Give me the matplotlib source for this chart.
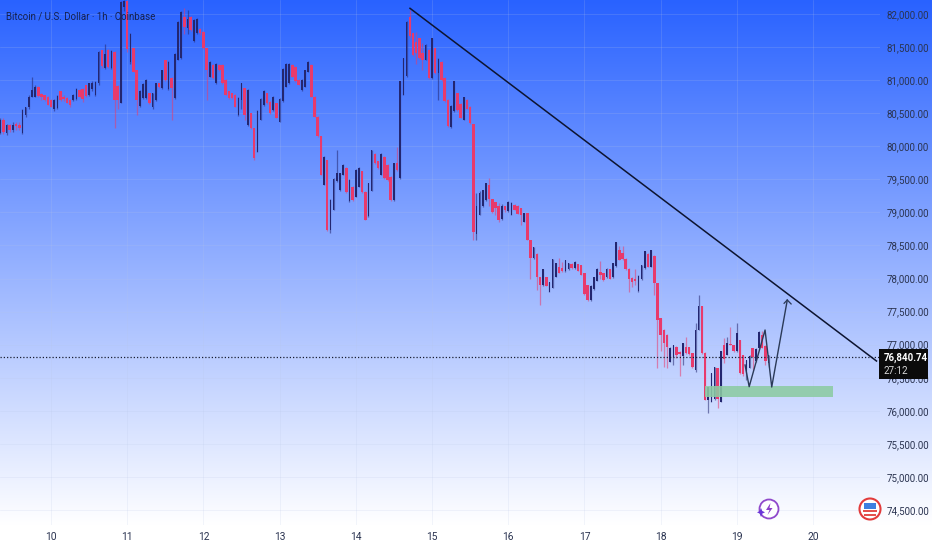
import numpy as np
import matplotlib
matplotlib.use("Agg")
import matplotlib.pyplot as plt
from matplotlib.patches import Rectangle, Circle, Polygon

opens = [80200,80400,80200,80320,80240,80330,80320,80200,80480,80590,80750,80750,80900,80790,80770,80740,80700,80560,80580,80830,
80750,80730,80700,80700,80720,80850,80860,80920,80780,80860,80780,80950,81450,81180,81460,81180,81430,80910,80660,82110,
82190,81280,81480,81150,80610,80730,80730,80800,80600,80700,80950,80880,81300,80860,81030,80730,81310,81330,81950,81790,
81960,81590,81710,81780,81730,81480,81050,81230,80950,81230,81230,81000,80830,80800,80780,80470,80700,80876,80320,80500,
80270,79920,80400,80620,80800,80670,80550,80650,80370,80680,80900,80950,81230,81200,81000,80850,80900,81130,81230,80750,
80450,80150,79420,79790,78740,79040,79470,79340,79570,79670,79170,79390,79240,79390,79620,79310,78940,79330,79890,79770,
79570,79840,79720,79540,79190,79740,79520,80780,81060,81950,81710,81580,81630,81410,81310,81460,81030,81480,81110,81280,
81030,80700,80290,80530,80800,80640,80400,80700,80600,80330,78680,78960,79090,79190,79410,79210,79160,79090,78900,79090,
79020,78960,79110,79090,79060,78860,78985,78580,78310,78370,78030,77900,78030,77800,77860,78030,78180,78160,78110,78140,
78220,78160,78215,78200,78080,77900,77670,77840,77970,78100,78080,78020,78140,78020,78190,78430,78380,78300,78150,78010,
77990,77810,77990,78160,78370,78180,78340,77930,77400,77220,77150,76740,76810,76970,76890,76830,76970,76970,76870,76620,
77220,77580,76880,76170,76140,76180,76640,76140,77000,76850,77000,77000,76900,77070,76850,76550,76640,76950,76750,76950,
77150,76980,76720]
closes = [80400,80220,80320,80240,80320,80310,80280,80550,80590,80750,80850,80900,80760,80740,80700,80630,80600,80700,80760,80700,
80710,80660,80620,80780,80870,80750,80720,80760,80950,80960,80970,81430,81210,81400,81200,81440,80700,80700,82180,82200,
81470,81700,81130,80700,80840,80940,81000,80660,80800,80950,80900,81150,81000,81280,80880,81400,81880,82030,81810,81930,
81760,81910,81930,81710,81480,81150,81280,81030,81250,81150,80950,80780,80730,80730,80600,80730,80950,80470,80850,80270,
79820,80540,80720,80840,80650,80500,80750,80430,80720,81170,81250,81250,81050,80980,80930,81000,81150,81280,80750,80450,
80150,79570,79840,78730,79190,79510,79590,79590,79720,79310,79490,79190,79640,79670,79310,78890,79440,79940,79740,79670,
79890,79520,79490,79190,79740,79640,80980,81330,81880,81660,81380,81410,81330,81310,81530,81030,81630,81110,81320,81000,
80680,80300,80610,80980,80550,80430,80740,80570,80350,78700,79090,79300,79340,79450,79210,79000,79060,78890,79090,79030,
79160,79140,79040,78980,78960,78990,78580,78310,78470,78030,77900,78140,77880,77950,78290,78230,78080,78110,78280,78240,
78160,78250,78115,78060,77760,77670,77890,78020,78150,78050,77980,78150,78000,78240,78550,78280,78300,78140,77990,77950,
77960,78040,78200,78410,78180,78430,77930,77370,77150,77020,76970,76950,76990,76850,76860,77020,76870,76860,76660,77220,
77580,76870,76170,76360,76570,76670,76180,76900,76780,77030,76990,76900,77180,76570,76560,76770,76830,76810,76940,77190,
76950,76750,76840]
highs = [80420,80420,80340,80340,80360,80370,80370,80560,80600,80780,81050,80930,80910,80800,80780,80760,80720,80710,80770,80840,
80770,80740,80720,80790,80880,80860,80880,80930,80960,80990,80980,81440,81460,81540,81470,81460,81440,80920,82200,82212,
82210,81710,81490,81160,80850,80950,81010,80810,80810,80960,80960,81160,81310,81290,81040,81410,81890,82040,82090,82060,
81970,81920,81940,81790,81740,81490,81290,81240,81260,81240,81240,81010,80840,80810,80790,80740,80960,80880,80860,80510,
80280,80550,80730,80850,80810,80680,80760,80660,80730,81180,81260,81260,81240,81210,81010,81010,81160,81290,81240,80760,
80460,80160,79850,79800,79200,79520,79940,79600,79730,79680,79500,79400,79650,79680,79630,79320,79450,79950,79900,79780,
79900,79850,79730,79550,79750,79990,80990,81340,81890,82060,81720,81730,81640,81560,81540,81470,81640,81490,81330,81290,
81040,80710,80620,80990,80810,80650,80750,80710,80610,80340,79290,79320,79340,79450,79515,79210,79160,79140,79120,79100,
79170,79150,79120,79110,79060,78990,78990,78590,78470,78390,78030,78140,78030,77950,78290,78230,78310,78250,78280,78240,
78230,78260,78220,78210,78090,77910,77900,78030,78160,78270,78090,78160,78140,78240,78550,78490,78490,78310,78160,78030,
78150,78050,78210,78420,78380,78430,78350,77930,77410,77230,77160,76960,77000,76980,76910,77020,77120,76970,76880,77330,
77750,77590,76890,76360,76570,76670,76650,76910,77100,77110,77270,77000,77330,77070,76850,76770,76840,76950,76950,77200,
77200,77000,76850]
lows = [80190,80190,80170,80210,80220,80240,80250,80190,80450,80570,80740,80740,80740,80700,80680,80620,80590,80540,80570,80690,
80690,80650,80600,80690,80700,80740,80670,80740,80760,80840,80760,80930,81190,81170,81190,81170,80270,80570,80650,82040,
81430,81250,81120,80480,80600,80720,80720,80640,80570,80690,80880,80870,80990,80850,80400,80720,81300,81320,81700,81700,
81750,81580,81700,81690,81470,80700,81040,81020,80940,81140,80940,80770,80720,80720,80590,80460,80570,80400,80310,80260,
79800,79910,80390,80610,80640,80490,80540,80420,80360,80670,80890,80940,81040,80970,80920,80840,80890,81120,80740,80440,
80140,79560,79410,78720,78690,79030,79460,79330,79560,79300,79160,79180,79230,79380,79300,78880,78930,79320,79730,79660,
79560,79510,79480,79180,79180,79630,79510,80770,81050,81630,81370,81250,81320,81150,81300,81020,81020,81100,80700,80990,
80670,80290,80280,80520,80540,80420,80390,80560,80340,78580,78590,78960,79080,79180,79090,78990,78960,78860,78890,79000,
79010,78960,79030,78980,78810,78860,78580,78000,78300,77830,77600,77890,77880,77790,77850,78020,78080,78100,78100,78130,
78150,78150,78110,78050,77750,77660,77660,77830,77960,78000,77970,78010,77990,78010,78180,78280,78280,78130,77790,77870,
77900,77800,77980,78150,78170,78170,77750,76640,76900,76670,76640,76740,76690,76800,76520,76690,76860,76840,76640,76590,
77220,76860,76170,75960,76140,76160,76040,76140,76720,76840,76990,76890,76890,76560,76520,76470,76640,76620,76740,76940,
76950,76700,76660]

day_labels = ["10","11","12","13","14","15","16","17","18","19","20"]
price_ticks = [74500,75000,75500,76000,76500,77000,77500,78000,78500,79000,79500,80000,80500,81000,81500,82000]
trend_x = [129.07, 276.0]
trend_y = [82086, 76753]
path_x = [234.6, 235.9, 240.9, 243.0, 247.9]
path_y = [76693, 76365, 77222, 76360, 77676]
zone = (222.0, 76205, 40.2, 170)  # hour start, price low, hours wide, price tall
last_price = 76840.74

PINK = "#e83a6c"
DARK = "#232670"
W, H = 932, 550
fig = plt.figure(figsize=(W/100, H/100), dpi=100)
fig.patch.set_facecolor("white")

bg = fig.add_axes([0, 0, 1, 1], zorder=0)
t = np.linspace(0, 1, 550)
grad = np.ones((550, 1, 3))
top = np.array([41, 98, 255]) / 255
stop = 525 / 550
for k in range(3):
    grad[:, 0, k] = np.where(t < stop, top[k] + (1 - top[k]) * (t / stop), 1.0)
bg.imshow(grad, aspect="auto", extent=[0, 1, 0, 1])
bg.axis("off")

ax = fig.add_axes([0, 1 - 525/550, 880/W, 525/550], zorder=1)
ax.patch.set_alpha(0)
ax.set_xlim(16 - 51/3.175, 16 + 829/3.175)
ax.set_ylim(82000 - 15.12*511, 82000 + 15.12*14)
for s in ax.spines.values():
    s.set_visible(False)

hours = np.arange(len(closes))
o, c, h_, l = map(np.array, (opens, closes, highs, lows))
is_down = c < o
cols = [PINK if d else DARK for d in is_down]
ax.vlines(hours, l, h_, colors=cols, lw=0.9, zorder=3, alpha=0.55)
ax.bar(hours[is_down], np.maximum(np.abs(c - o), 20)[is_down], bottom=np.minimum(o, c)[is_down],
       width=0.8, color=PINK, zorder=4, lw=0)
ax.bar(hours[~is_down], np.maximum(np.abs(c - o), 20)[~is_down], bottom=np.minimum(o, c)[~is_down],
       width=0.5, color=DARK, zorder=4, lw=0)

ax.set_yticks(price_ticks)
ax.set_yticklabels([f"{p:,.2f}" for p in price_ticks])
ax.set_xticks([16 + 24*k for k in range(len(day_labels))])
ax.set_xticklabels(day_labels)
ax.yaxis.tick_right()
fontfam = ["Roboto", "DejaVu Sans"]
ax.tick_params(axis="y", length=0, pad=5, labelsize=7.0, labelcolor="#2a3350")
ax.tick_params(axis="x", length=0, pad=5, labelsize=7.4, labelcolor="#2a3350")
for lab in ax.get_xticklabels() + ax.get_yticklabels():
    lab.set_family(fontfam)
ax.grid(True, color="#b9c6e6", lw=0.5, alpha=0.25, zorder=1)
ax.set_axisbelow(True)

ax.axhline(76818, color="#1a1f33", lw=0.9, ls=(0, (1, 1.6)), zorder=6)
ax.plot(trend_x, trend_y, color="#0d1430", lw=1.1, zorder=7)
ax.add_patch(Rectangle((zone[0], zone[1]), zone[2], zone[3], facecolor="#8ccba3", edgecolor="none", alpha=0.88, zorder=5))
ax.plot(path_x, path_y, color="#2b3a58", lw=1.0, zorder=7)
ax.plot([path_x[-1]-1.0, path_x[-1], path_x[-1]+1.2], [path_y[-1]-50, path_y[-1], path_y[-1]-60],
        color="#2b3a58", lw=0.9, zorder=7)

ov = fig.add_axes([0, 0, 1, 1], zorder=5)
ov.set_xlim(0, W); ov.set_ylim(H, 0); ov.axis("off"); ov.patch.set_alpha(0)
ov.text(6, 16.5, "Bitcoin / U.S. Dollar · 1h · Coinbase", color="#14204f", fontsize=7.0,
        family=fontfam, va="center", ha="left")
ov.add_patch(Rectangle((879, 349), 49, 30, facecolor="#0b0b0b", edgecolor="none"))
ov.text(884, 357.5, f"{last_price:,.2f}", color="white", fontsize=7.0, family=fontfam,
        va="center", ha="left", weight="bold")
ov.text(884, 370.5, "27:12", color="#d8d8d8", fontsize=7.0, family=fontfam, va="center", ha="left")

ov.add_patch(Circle((769, 509), 9.5, facecolor="white", edgecolor="#8a3fc9", lw=1.3, alpha=0.95))
ov.add_patch(Polygon([(770.5, 503), (766, 510), (769.5, 510), (767.5, 515), (772.5, 508), (769.5, 508)],
                     closed=True, facecolor="#8a3fc9", edgecolor="none"))
ov.add_patch(Polygon([(761, 508), (762.3, 511), (765, 512.3), (762.3, 513.6), (761, 517), (759.7, 513.6), (757, 512.3), (759.7, 511)],
                     closed=True, facecolor="#6a35d8", edgecolor="none"))
ov.add_patch(Circle((870, 509), 10.5, facecolor="white", edgecolor="#e23b3b", lw=1.5))
ov.add_patch(Rectangle((864, 503), 12, 6, facecolor="#3c7fe0", edgecolor="none"))
ov.add_patch(Rectangle((863, 510), 14, 2, facecolor="#e4504c", edgecolor="none"))
ov.add_patch(Rectangle((864, 514), 12, 1.8, facecolor="#e4504c", edgecolor="none"))

fig.savefig("out.png", dpi=100)
